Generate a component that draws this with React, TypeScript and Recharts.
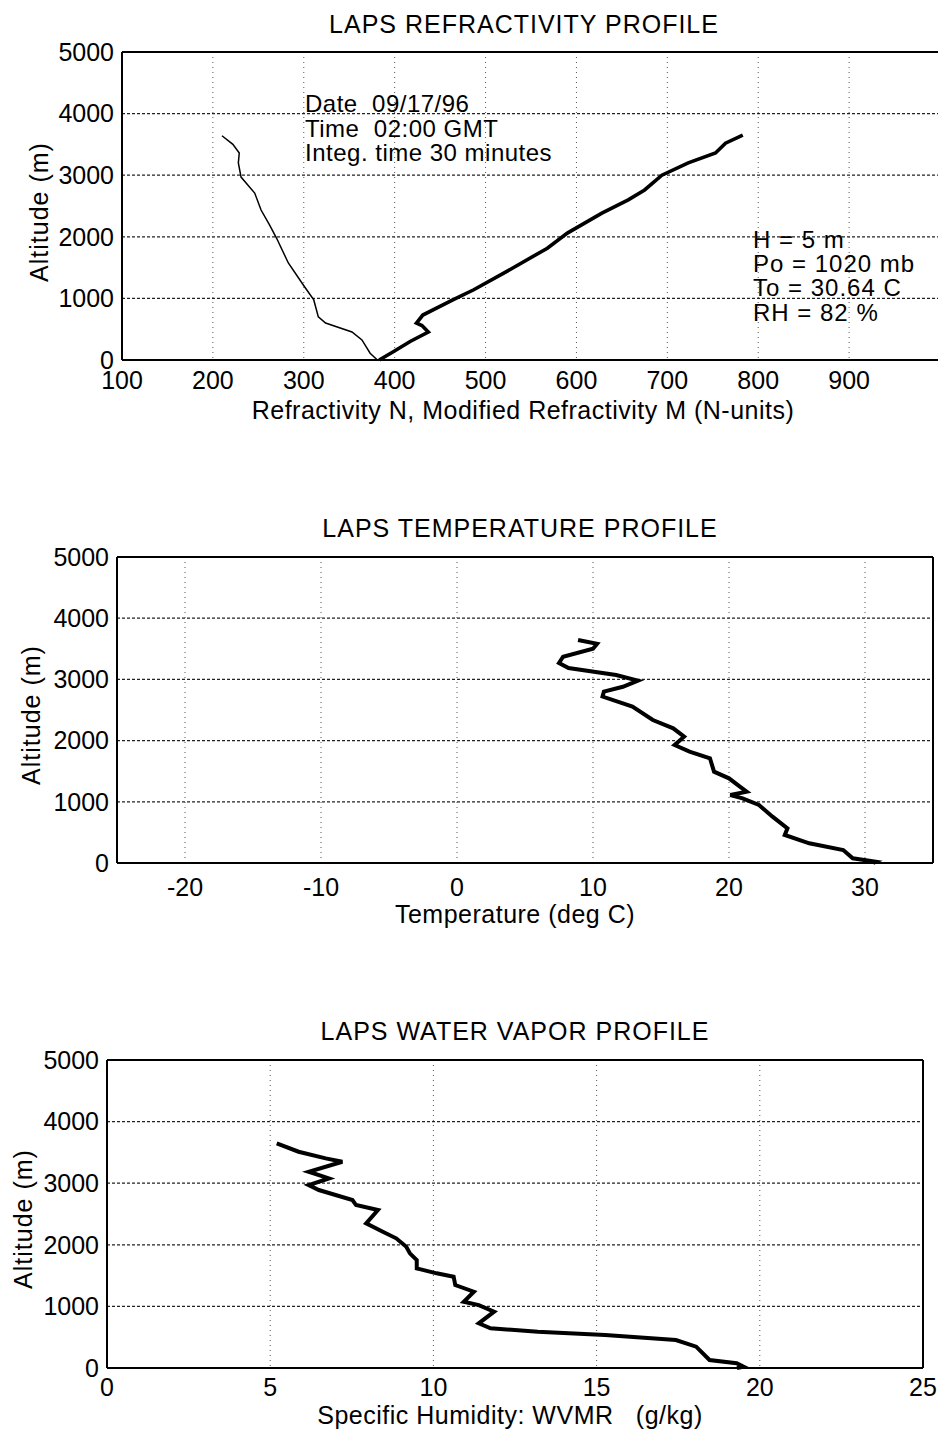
import { LineChart, Line, XAxis, YAxis, CartesianGrid, ReferenceLine } from 'recharts'
import type { ReactNode } from 'react'

const ALT_TICKS = [0, 1000, 2000, 3000, 4000, 5000]

// refractivity profile
const REFR_TICKS = [100, 200, 300, 400, 500, 600, 700, 800, 900]
const refrN = [210, 222, 229, 228, 231, 246, 253, 262, 270, 283, 301, 311, 316, 324, 353, 364, 373, 381]
const refrNAlt = [3640, 3500, 3360, 3200, 2970, 2710, 2435, 2200, 1980, 1575, 1185, 975, 700, 600, 455, 325, 110, 0]
const refrM = [383, 398, 417, 437, 430, 424, 431, 464, 487, 520, 568, 590, 628, 657, 675, 694, 723, 753, 764, 783]
const refrMAlt = [0, 130, 300, 455, 560, 600, 730, 975, 1140, 1410, 1815, 2060, 2385, 2600, 2760, 3000, 3200, 3360, 3520, 3650]

// temperature profile
const TEMP_TICKS = [-20, -10, 0, 10, 20, 30]
const tempC = [8.9, 10.3, 10.0, 7.8, 7.5, 8.2, 11.7, 13.3, 12.2, 10.8, 10.7, 12.9, 14.4, 15.9, 16.7, 16.0, 17.1, 18.6, 18.9, 20.0, 20.8, 21.3, 20.1, 21.0, 22.2, 23.2, 24.3, 24.1, 25.9, 28.4, 29.1, 30.8, 30.6]
const tempAlt = [3644, 3580, 3500, 3370, 3268, 3186, 3072, 2980, 2880, 2800, 2720, 2555, 2337, 2200, 2064, 1928, 1819, 1711, 1492, 1384, 1247, 1165, 1111, 1057, 948, 757, 567, 458, 322, 212, 77, 21, 0]

// water vapor profile
const WV_TICKS = [0, 5, 10, 15, 20, 25]
const wvmr = [5.2, 5.87, 6.7, 7.21, 6.18, 6.8, 6.18, 6.49, 7.52, 7.63, 8.3, 7.94, 8.45, 8.86, 9.17, 9.28, 9.49, 9.49, 10.1, 10.62, 10.67, 11.24, 10.93, 11.39, 11.86, 11.39, 11.75, 13.2, 15.26, 17.43, 18.05, 18.46, 19.29, 19.5, 19.3]
const wvmrAlt = [3647, 3511, 3403, 3348, 3186, 3078, 2970, 2889, 2727, 2645, 2564, 2348, 2213, 2105, 1969, 1861, 1753, 1618, 1537, 1482, 1347, 1238, 1076, 1022, 914, 725, 644, 589, 536, 454, 346, 130, 76, 21, 0]

const toRows = (xs: number[], alts: number[]) => xs.map((x, i) => ({ x, alt: alts[i] }))

const FONT = 'Arial, "Liberation Sans", Helvetica, sans-serif'
const tickStyle = { fill: '#000', fontSize: 25, fontFamily: FONT }
const axisLine = { stroke: '#000', strokeWidth: 2 }

// y is the text baseline
function Txt({ x, y, size = 25, center, spacing = 0, children }: { x: number; y: number; size?: number; center?: boolean; spacing?: number; children: ReactNode }) {
  return (
    <div style={{
      position: 'absolute', left: x, top: y - Math.round(size * 0.8), fontSize: size, lineHeight: `${Math.round(size * 0.9)}px`,
      whiteSpace: 'pre', letterSpacing: spacing, transform: center ? 'translateX(-50%)' : undefined,
    }}>{children}</div>
  )
}

function VLabel({ cx, cy }: { cx: number; cy: number }) {
  return (
    <div style={{
      position: 'absolute', left: cx, top: cy, fontSize: 25, lineHeight: '25px', whiteSpace: 'pre', letterSpacing: 1,
      transform: 'translate(-50%, -50%) rotate(-90deg)',
    }}>Altitude (m)</div>
  )
}

function Grids() {
  return (
    <>
      <CartesianGrid vertical={false} stroke="#222" strokeWidth={1.3} strokeDasharray="3 2" />
      <CartesianGrid horizontal={false} stroke="#555" strokeWidth={1} strokeDasharray="1 4" />
    </>
  )
}

export default function App() {
  return (
    <div style={{ position: 'absolute', left: 0, top: 0, width: 938, height: 1439, overflow: 'hidden', background: '#fff', fontFamily: FONT, color: '#000' }}>
      {/* refractivity */}
      <div style={{ position: 'absolute', left: 0, top: 0 }}>
        <LineChart width={950} height={440} margin={{ top: 52, right: 10, bottom: 0, left: 0 }}>
          <Grids />
          <XAxis type="number" dataKey="x" domain={[100, 1000]} ticks={REFR_TICKS} height={80} tick={tickStyle} tickLine={false} tickMargin={5} axisLine={axisLine} allowDataOverflow />
          <YAxis type="number" dataKey="alt" domain={[0, 5000]} ticks={ALT_TICKS} width={122} tick={tickStyle} tickLine={false} axisLine={axisLine} />
          <ReferenceLine y={5000} stroke="#000" strokeWidth={2} />
          <Line data={toRows(refrN, refrNAlt)} dataKey="alt" stroke="#000" strokeWidth={1.5} dot={false} isAnimationActive={false} />
          <Line data={toRows(refrM, refrMAlt)} dataKey="alt" stroke="#000" strokeWidth={3.6} dot={false} isAnimationActive={false} />
        </LineChart>
        <Txt x={524} y={33} center spacing={1}>LAPS REFRACTIVITY PROFILE</Txt>
        <Txt x={523} y={419} center spacing={0.5}>Refractivity N, Modified Refractivity M (N-units)</Txt>
        <VLabel cx={39} cy={212} />
        <Txt x={305} y={112} size={24} spacing={0.5}>{'Date  09/17/96'}</Txt>
        <Txt x={305} y={137} size={24} spacing={0.5}>{'Time  02:00 GMT'}</Txt>
        <Txt x={305} y={161} size={24} spacing={0.5}>Integ. time 30 minutes</Txt>
        <Txt x={753} y={248} size={24} spacing={1}>H = 5 m</Txt>
        <Txt x={753} y={272} size={24} spacing={1}>Po = 1020 mb</Txt>
        <Txt x={753} y={296} size={24} spacing={1}>To = 30.64 C</Txt>
        <Txt x={753} y={321} size={24} spacing={1}>RH = 82 %</Txt>
      </div>

      {/* temperature */}
      <div style={{ position: 'absolute', left: 0, top: 500 }}>
        <LineChart width={938} height={440} margin={{ top: 57, right: 5, bottom: 0, left: 0 }}>
          <Grids />
          <XAxis type="number" dataKey="x" domain={[-25, 35]} ticks={TEMP_TICKS} height={77} tick={tickStyle} tickLine={false} tickMargin={9} axisLine={axisLine} />
          <YAxis type="number" dataKey="alt" domain={[0, 5000]} ticks={ALT_TICKS} width={117} tick={tickStyle} tickLine={false} axisLine={axisLine} />
          <ReferenceLine y={5000} stroke="#000" strokeWidth={2} />
          <ReferenceLine x={35} stroke="#000" strokeWidth={2} />
          <Line data={toRows(tempC, tempAlt)} dataKey="alt" stroke="#000" strokeWidth={4} dot={false} isAnimationActive={false} />
        </LineChart>
        <Txt x={520} y={37} center spacing={1}>LAPS TEMPERATURE PROFILE</Txt>
        <Txt x={515} y={423} center spacing={0.5}>Temperature (deg C)</Txt>
        <VLabel cx={31} cy={215} />
      </div>

      {/* water vapor */}
      <div style={{ position: 'absolute', left: 0, top: 1000 }}>
        <LineChart width={938} height={439} margin={{ top: 60, right: 15, bottom: 0, left: 0 }}>
          <Grids />
          <XAxis type="number" dataKey="x" domain={[0, 25]} ticks={WV_TICKS} height={71} tick={tickStyle} tickLine={false} tickMargin={4} axisLine={axisLine} />
          <YAxis type="number" dataKey="alt" domain={[0, 5000]} ticks={ALT_TICKS} width={107} tick={tickStyle} tickLine={false} axisLine={axisLine} />
          <ReferenceLine y={5000} stroke="#000" strokeWidth={2} />
          <ReferenceLine x={25} stroke="#000" strokeWidth={2} />
          <Line data={toRows(wvmr, wvmrAlt)} dataKey="alt" stroke="#000" strokeWidth={4} dot={false} isAnimationActive={false} />
        </LineChart>
        <Txt x={515} y={40} center spacing={1}>LAPS WATER VAPOR PROFILE</Txt>
        <Txt x={510} y={424} center spacing={0.5}>{'Specific Humidity: WVMR   (g/kg)'}</Txt>
        <VLabel cx={23} cy={219} />
      </div>
    </div>
  )
}
